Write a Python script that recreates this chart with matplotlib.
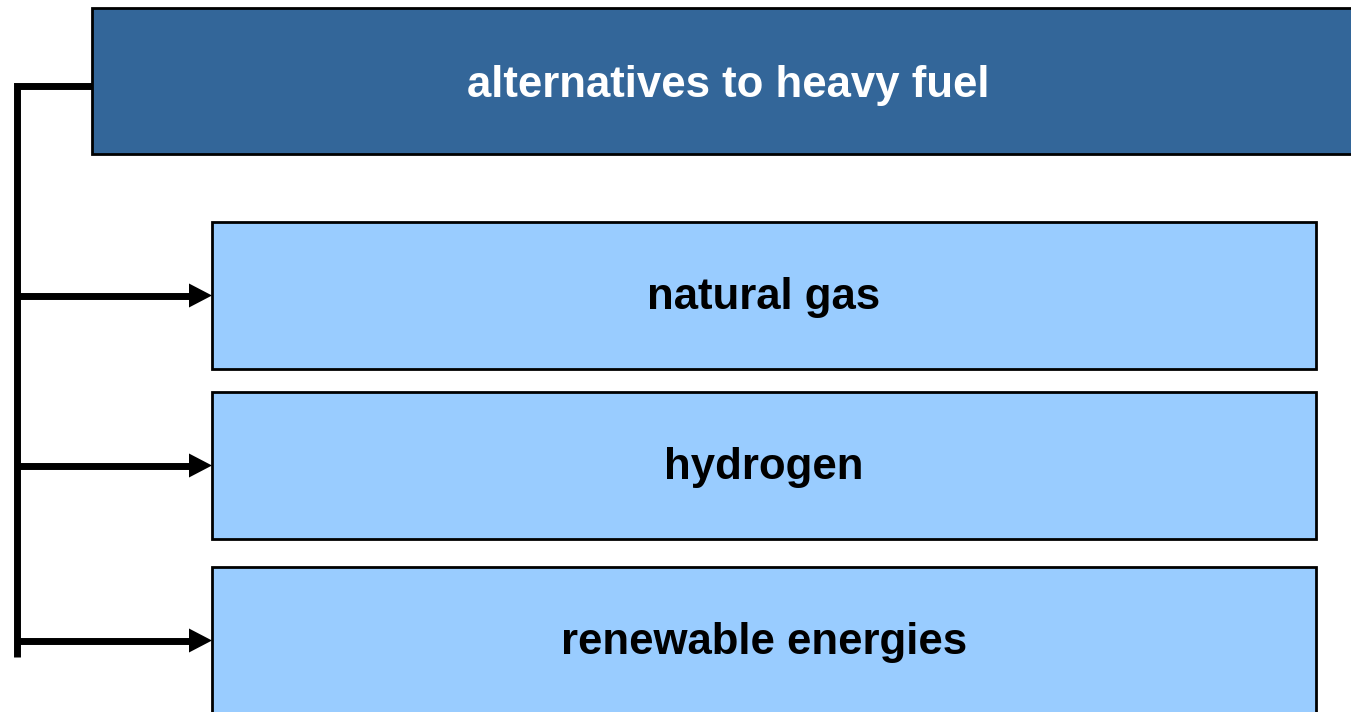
import matplotlib.pyplot as plt
from matplotlib.patches import Rectangle, Polygon

# diagram text
title = 'alternatives to heavy fuel'
options = ['natural gas', 'hydrogen', 'renewable energies']

dark_blue = '#336699'
light_blue = '#99ccff'
font = ['Liberation Sans Narrow', 'Liberation Sans', 'DejaVu Sans']
fsize = 31.5

fig = plt.figure(figsize=(13.51, 7.12), dpi=100)
ax = fig.add_axes([0, 0, 1, 1])
ax.set_xlim(0, 1351)
ax.set_ylim(712, 0)
ax.axis('off')

# top box (runs off the right edge)
ax.add_patch(Rectangle((92, 8), 1272, 146, facecolor=dark_blue,
                       edgecolor='black', linewidth=2))
ax.text(728, 85, title, color='white', fontsize=fsize, family=font,
        fontweight='bold', ha='center', va='center')

# option boxes with arrows from the left spine
box_top = [222, 392, 567]
box_h = 147
spine_x = 16.5
for label, top in zip(options, box_top):
    ax.add_patch(Rectangle((212, top), 1104, box_h, facecolor=light_blue,
                           edgecolor='black', linewidth=2))
    yc = top + box_h / 2
    ax.text(764, yc + 2, label, color='black', fontsize=fsize, family=font,
            fontweight='bold', ha='center', va='center')
    ax.plot([spine_x, 192], [yc, yc], color='black', lw=5,
            solid_capstyle='butt')
    ax.add_patch(Polygon([(189, yc - 12), (212, yc), (189, yc + 12)],
                         closed=True, facecolor='black', edgecolor='none'))

# connector from the top box down the left side
ax.plot([92, spine_x, spine_x], [86, 86, 657],
        color='black', lw=5, solid_joinstyle='miter', solid_capstyle='butt')

fig.savefig('out.png', dpi=100)
